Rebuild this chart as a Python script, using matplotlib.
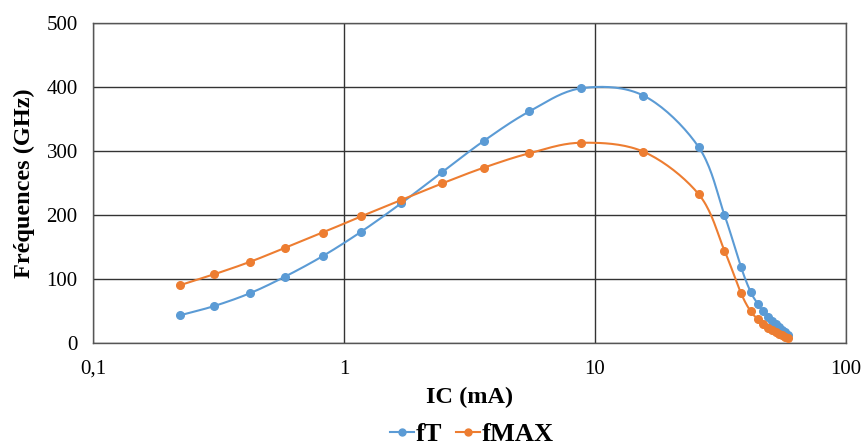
import numpy as np
import matplotlib
matplotlib.use("Agg")
from matplotlib import pyplot as plt
from matplotlib.ticker import FixedLocator, FixedFormatter, NullLocator

# data
ic = [0.222, 0.304, 0.422, 0.58, 0.823, 1.17, 1.69, 2.46, 3.60, 5.48, 8.79, 15.6,
      25.9, 32.8, 38.1, 41.7, 44.5, 46.6, 49.0, 50.9, 52.6, 54.2, 55.7, 57.1, 58.5]
ft = [43.5, 58, 78, 103.6, 136, 174, 218.5, 267, 315.7, 362, 398, 386.6,
      306, 200, 119.6, 80, 61.6, 50, 41, 35, 30, 25, 21, 17, 13]
fmax = [90.5, 107.6, 127, 148.6, 172.8, 198, 223.6, 249.5, 274, 296.6, 313, 299,
        232.5, 144.4, 78.7, 49.7, 37.7, 29.5, 24, 20, 17, 14, 12, 10, 8.5]

xticks = [0.1, 1, 10, 100]
xlabels = ['0,1', '1', '10', '100']
yticks = [0, 100, 200, 300, 400, 500]


def smooth(x, y, n=20):
    # catmull-rom through the points, in log-x space (like excel smoothed lines)
    lx = np.log10(x)
    y = np.asarray(y, float)
    px = np.concatenate([[2*lx[0]-lx[1]], lx, [2*lx[-1]-lx[-2]]])
    py = np.concatenate([[2*y[0]-y[1]], y, [2*y[-1]-y[-2]]])
    xs, ys = [], []
    t = np.linspace(0, 1, n, endpoint=False)
    for i in range(1, len(px)-2):
        for arr, out in ((px, xs), (py, ys)):
            p0, p1, p2, p3 = arr[i-1], arr[i], arr[i+1], arr[i+2]
            out.extend(0.5*((2*p1) + (-p0+p2)*t + (2*p0-5*p1+4*p2-p3)*t**2
                            + (-p0+3*p1-3*p2+p3)*t**3))
    xs.append(lx[-1]); ys.append(y[-1])
    return 10**np.array(xs), np.array(ys)


plt.rcParams['font.family'] = 'Liberation Serif'
fig = plt.figure(figsize=(8.61, 4.48), dpi=100)
ax = fig.add_axes([0.108, 0.234, 0.8746, 0.7146])

blue = '#5B9BD5'
orange = '#ED7D31'
for y, c, name in ((ft, blue, 'fT'), (fmax, orange, 'fMAX')):
    sx, sy = smooth(ic, y)
    ax.plot(sx, sy, color=c, lw=1.5, zorder=3)
    ax.plot(ic, y, 'o', color=c, ms=5.5, zorder=4)
    ax.plot([], [], '-o', color=c, lw=1.5, ms=5, label=name)

ax.set_xscale('log')
ax.set_xlim(0.1, 100)
ax.set_ylim(0, 500)
ax.xaxis.set_major_locator(FixedLocator(xticks))
ax.xaxis.set_major_formatter(FixedFormatter(xlabels))
ax.xaxis.set_minor_locator(NullLocator())
ax.set_yticks(yticks)
ax.grid(True, color='#333333', lw=1.0)
for s in ax.spines.values():
    s.set_color('#555555')
    s.set_linewidth(1.0)
ax.tick_params(length=0, labelsize=15, colors='black')
ax.tick_params(axis='y', pad=11)
ax.tick_params(axis='x', pad=12)

ax.set_xlabel('IC (mA)', fontsize=17.5, fontweight='bold', labelpad=6)
ax.set_ylabel('Fréquences (GHz)', fontsize=17.5, fontweight='bold', labelpad=8)

fig.legend(loc='center', bbox_to_anchor=(0.548, 14/448), ncol=2, frameon=False,
           prop={'size': 19, 'weight': 'bold'}, handlelength=0.9,
           handletextpad=0.05, columnspacing=0.55, borderpad=0)

fig.savefig('out.png', dpi=100)
